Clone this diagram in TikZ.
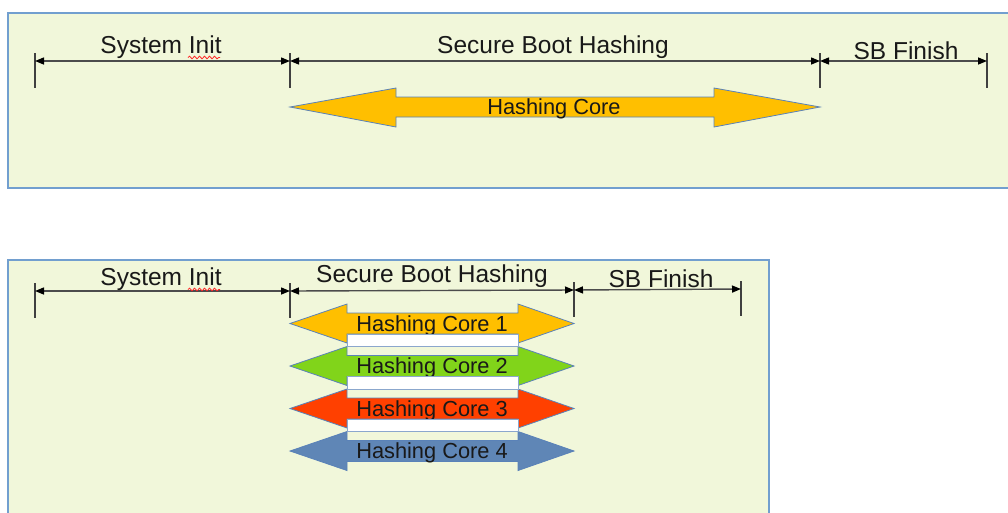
\documentclass[tikz,border=0pt]{standalone}
\usepackage{fontspec}
\setmainfont{Liberation Sans}
\usetikzlibrary{arrows.meta,decorations.pathmorphing}
\definecolor{bgfill}{HTML}{F1F7DA}
\definecolor{panelline}{HTML}{729FCF}
\definecolor{coreline}{HTML}{5A82B8}
\definecolor{coreyellow}{HTML}{FFBF00}
\definecolor{coregreen}{HTML}{81D41A}
\definecolor{corered}{HTML}{FF4000}
\definecolor{coreblue}{HTML}{5F86B6}
\begin{document}
\begin{tikzpicture}[x=1pt,y=-1pt,
  panel/.style={draw=panelline,fill=bgfill,line width=1.2pt},
  tick/.style={draw=black!75,line width=1.4pt},
  dim/.style={draw=black!70,line width=1.4pt,{Triangle[length=9pt,width=7pt,color=black]}-{Triangle[length=9pt,width=7pt,color=black]}},
  lbl/.style={font=\fontsize{24.5}{28}\selectfont,text=black!90,inner sep=0pt},
  core/.style={draw=coreline,line width=0.8pt,line join=miter},
  coretxt/.style={font=\fontsize{21.8}{25}\selectfont,text=black!90,inner sep=0pt},
  gap/.style={draw=coreline!70,fill=white,line width=0.6pt},
  spell/.style={draw=red!85,line width=0.8pt,decorate,decoration={snake,amplitude=1.3pt,segment length=5pt}}
]
\useasboundingbox (0,0) rectangle (1008,512);
\fill[white] (0,0) rectangle (1008,512);

% ---------- top panel ----------
\draw[panel] (8,13) rectangle (1014,188);
\coordinate (t0) at (35,61);
\coordinate (t1) at (290,61);
\coordinate (t2) at (820,61);
\coordinate (t3) at (987,61);
\foreach \p in {t0,t1,t2,t3}{
  \draw[tick] ([yshift=8pt]\p) -- ([yshift=-27pt]\p);
}
\draw[dim] (t0) -- (t1);
\draw[dim] (t1) -- (t2);
\draw[dim] (t2) -- (t3);
\node[lbl] (tsi) at (161,47) {System Init};
\node[lbl] (tsb) at (553,47) {Secure Boot Hashing};
\node[lbl] (tsf) at (906,51) {SB Finish};
\draw[spell] (188,57.5) -- (220,57.5);

\draw[core,fill=coreyellow] (290,107) -- (396,88) -- (396,97) -- (714,97) -- (714,88)
  -- (820,107) -- (714,127) -- (714,117) -- (396,117) -- (396,127) -- cycle;
\node[coretxt] (hc) at (554,109) {Hashing Core};

% ---------- bottom panel ----------
\draw[panel] (8,260) rectangle (769,520);
\coordinate (b0) at (35,291);
\coordinate (b1) at (290,291);
\coordinate (b2) at (574,290);
\coordinate (b3) at (741,289);
\foreach \p in {b0,b1,b2,b3}{
  \draw[tick] ([yshift=8pt]\p) -- ([yshift=-27pt]\p);
}
\draw[dim] (b0) -- (b1);
\draw[dim] (b1) -- (b2);
\draw[dim] (b2) -- (b3);
\node[lbl] (bsi) at (161,279) {System Init};
\node[lbl] (bsb) at (432,276) {Secure Boot Hashing};
\node[lbl] (bsf) at (661,279) {SB Finish};
\draw[spell] (188,289.5) -- (220,289.5);

\foreach \c/\col/\n in {323.5/coreyellow/1,366/coregreen/2,408.5/corered/3,451/coreblue/4}{
  \draw[core,fill=\col] (290,\c) -- (347,\c-19.5) -- (347,\c-10.5) -- (518,\c-10.5) -- (518,\c-19.5)
    -- (574,\c) -- (518,\c+19.5) -- (518,\c+10.5) -- (347,\c+10.5) -- (347,\c+19.5) -- cycle;
  \node[coretxt] (hc\n) at (432,\c+2) {Hashing Core \n};
}
\draw[gap] (347,334) rectangle (518,346.5);
\draw[gap] (347,376.5) rectangle (518,389);
\draw[gap] (347,419) rectangle (518,431.5);
\end{tikzpicture}
\end{document}
